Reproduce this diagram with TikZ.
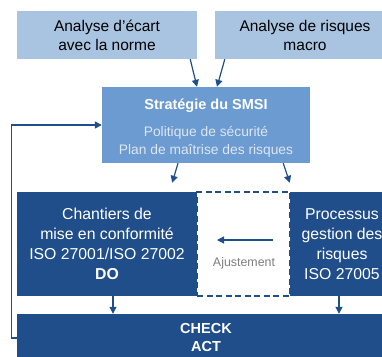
\documentclass[tikz,border=0pt]{standalone}
\usepackage{fontspec}
\setmainfont{Liberation Sans}
\usetikzlibrary{arrows.meta,positioning}
\definecolor{paleblue}{HTML}{A9C4E1}
\definecolor{midblue}{HTML}{6B9BD0}
\definecolor{darkblue}{HTML}{1F4E8A}
\definecolor{softtext}{HTML}{DDE6F2}
\definecolor{greytext}{HTML}{7F7F7F}
\tikzset{
  box/.style={inner sep=0pt, align=center, minimum height=48pt},
  inputbox/.style={box, fill=paleblue, minimum width=180pt, font=\fontsize{15.5}{19}\selectfont},
  stratbox/.style={box, fill=midblue, text=softtext, minimum width=208pt, minimum height=76pt,
    font=\fontsize{13.8}{18}\selectfont},
  dobox/.style={box, fill=darkblue, text=white, minimum height=104pt, font=\fontsize{15.8}{20}\selectfont},
  gapbox/.style={box, draw=darkblue, line width=1.4pt, dash pattern=on 6pt off 3.5pt,
    fill=white, minimum width=93pt, minimum height=104pt},
  arr/.style={-{Triangle[length=7pt,width=7pt]}, draw=darkblue, line width=1.2pt},
  loopline/.style={arr, line width=1.5pt}
}

\begin{document}
\begin{tikzpicture}[x=1pt, y=-1pt]
  \useasboundingbox (0,0) rectangle (382,356);

  % inputs
  \node[inputbox] (ecart) at (107,35) {Analyse d’écart\\avec la norme};
  \node[inputbox] (risques) at (305,35) {Analyse de risques\\macro};

  % strategy
  \node[stratbox] (smsi) at (206,125) {\rule{0pt}{17pt}\fontsize{14.5}{18}\selectfont\textcolor{white}{\textbf{Stratégie du SMSI}}\\[9pt]
    Politique de sécurité\\Plan de maîtrise des risques};

  % DO row
  \node[gapbox] (ajust) at (243.5,244) {};
  \node[dobox, minimum width=180pt] (chantiers) at (107,244) {Chantiers de\\mise en conformité\\ISO 27001/ISO 27002\\\textbf{DO}};
  \node[dobox, minimum width=104pt] (processus) at (342,244) {Processus\\gestion des\\risques\\ISO 27005};
  \node[font=\fontsize{12.4}{14}\selectfont, text=greytext, inner sep=0pt] (ajlabel) at (244,263) {Ajustement};
  \coordinate (ajR) at (273,240);
  \coordinate (ajL) at (217,240);

  % check / act
  \node[dobox, minimum width=378pt, minimum height=48pt, font=\fontsize{14.5}{18}\selectfont\bfseries] (check) at (206,338) {CHECK\\ACT};

  \draw[arr] ([xshift=-7pt]ecart.south east) -- ([xshift=-9pt]smsi.north);
  \draw[arr] ([xshift=10pt]risques.south west) -- ([xshift=11pt]smsi.north);
  \draw[arr] ([xshift=-28pt]smsi.south) -- ([xshift=-25pt,yshift=9pt]chantiers.north east);
  \draw[arr] ([xshift=-27pt]smsi.south east) -- ([yshift=9pt]processus.north west);
  \draw[arr] (ajR) -- (ajL);
  \draw[arr] ([xshift=6pt]chantiers.south) -- ([xshift=6pt]chantiers.south |- check.north);
  \draw[arr] ([xshift=-3pt]processus.south) -- ([xshift=-3pt]processus.south |- check.north);
  \draw[loopline] (check.west) -- ++(-5.5,0) |- (smsi.west);
\end{tikzpicture}
\end{document}
